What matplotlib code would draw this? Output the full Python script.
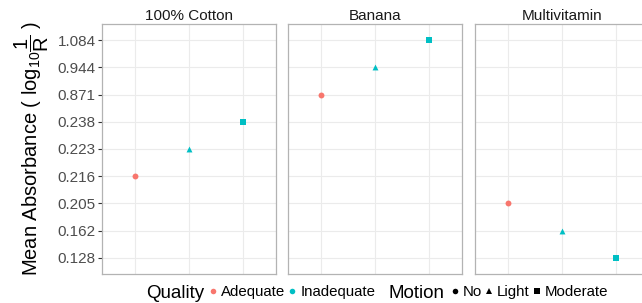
import matplotlib
matplotlib.use("Agg")
import matplotlib.pyplot as plt
from matplotlib.lines import Line2D

plt.rcParams['font.family'] = ['Liberation Sans', 'DejaVu Sans']
plt.rcParams['mathtext.fontset'] = 'custom'
plt.rcParams['mathtext.rm'] = 'Liberation Sans'
plt.rcParams['mathtext.it'] = 'Liberation Sans'

# data
panels = ["100% Cotton", "Banana", "Multivitamin"]
motion = ["No", "Light", "Moderate"]
cotton = [0.216, 0.223, 0.238]
banana = [0.871, 0.944, 1.084]
multivitamin = [0.205, 0.162, 0.128]
quality = ["Adequate", "Inadequate", "Inadequate"]

values = [cotton, banana, multivitamin]
quality_colors = {"Adequate": "#F8766D", "Inadequate": "#00BFC4"}
motion_markers = {"No": "o", "Light": "^", "Moderate": "s"}

# y axis is discrete: one level per distinct value
levels = sorted(set(v for vals in values for v in vals))
ypos = {v: i + 1 for i, v in enumerate(levels)}

W, H = 642, 303
fig = plt.figure(figsize=(W / 100, H / 100), dpi=100)

lefts = [102, 288, 475]
width = 174
top, bottom = 24, 274

for k, (name, vals) in enumerate(zip(panels, values)):
    ax = fig.add_axes([lefts[k] / W, 1 - bottom / H, width / W, (bottom - top) / H])
    for j, m in enumerate(motion):
        ax.scatter(j + 1, ypos[vals[j]], color=quality_colors[quality[j]],
                   marker=motion_markers[m], s=18, linewidths=0, zorder=3)
    ax.set_xlim(0.4, 3.6)
    ax.set_ylim(0.4, len(levels) + 0.6)
    ax.set_xticks([1, 2, 3])
    ax.set_xticklabels([])
    ax.tick_params(axis='x', length=0)
    ax.set_yticks(range(1, len(levels) + 1))
    if k == 0:
        ax.set_yticklabels(["%.3f" % v for v in levels], fontsize=11, color="#4D4D4D")
        ax.tick_params(axis='y', length=3, width=0.8, color="#333333", pad=1.5)
    else:
        ax.set_yticklabels([])
        ax.tick_params(axis='y', length=0)
    ax.grid(True, color="#EBEBEB", linewidth=0.8)
    ax.set_axisbelow(True)
    for s in ax.spines.values():
        s.set_color("#B3B3B3")
        s.set_linewidth(0.9)
    ax.set_title(name, fontsize=11, color="#1A1A1A", pad=3)
    if k == 0:
        ax.set_ylabel(r"Mean Absorbance ( $\mathrm{log}_{10}\dfrac{1}{\mathrm{R}}$ )",
                      fontsize=14.5, labelpad=5)

# legends at the bottom
fig.text(146 / W, 1 - 293 / H, "Quality", fontsize=13.5, va='center', ha='left')
qh = [Line2D([], [], linestyle='none', marker='o', markersize=4,
             color=quality_colors[q], markeredgewidth=0) for q in ["Adequate", "Inadequate"]]
fig.legend(qh, ["Adequate", "Inadequate"], loc='center left',
           bbox_to_anchor=(209 / W, 1 - 292 / H), ncol=2, frameon=False,
           fontsize=10.8, handlelength=0.5, handletextpad=0.3, columnspacing=0.2,
           borderpad=0, borderaxespad=0)

fig.text(388 / W, 1 - 293 / H, "Motion", fontsize=13.5, va='center', ha='left')
mh = [Line2D([], [], linestyle='none', marker=motion_markers[m], markersize=4,
             color="black", markeredgewidth=0) for m in motion]
fig.legend(mh, motion, loc='center left',
           bbox_to_anchor=(451 / W, 1 - 292 / H), ncol=3, frameon=False,
           fontsize=10.8, handlelength=0.5, handletextpad=0.3, columnspacing=0.2,
           borderpad=0, borderaxespad=0)

fig.savefig("out.png", dpi=100)
